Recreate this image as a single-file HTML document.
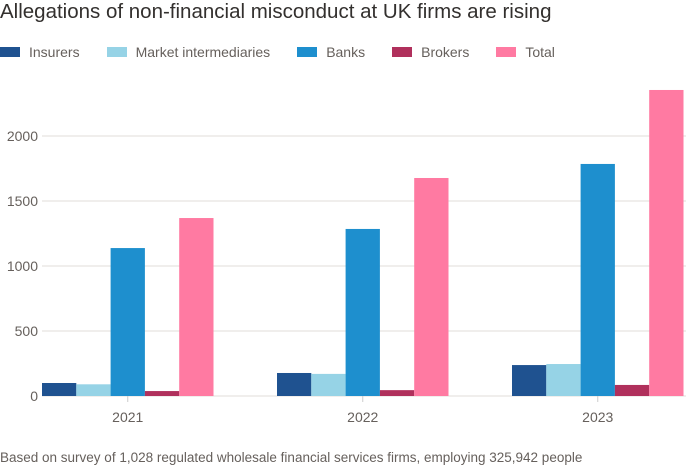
<!DOCTYPE html>
<html><head><meta charset="utf-8"><style>
body{margin:0;width:700px;height:470px;background:#fff;font-family:"Liberation Sans",sans-serif;color:#33302e;overflow:hidden;position:relative}
#title{position:absolute;left:0;top:0;font-size:20.5px;color:#33302e;white-space:nowrap}
#legend{position:absolute;left:0;top:44px;font-size:14px;color:#66605c;display:flex}
.li{display:flex;align-items:center;margin-right:27px}
.sw{width:20px;height:10px;margin-right:9px}
#note{position:absolute;left:0;top:450px;font-size:13.5px;color:#66605c;white-space:nowrap}
svg{position:absolute;left:0;top:0}
</style></head><body>
<div id="title">Allegations of non-financial misconduct at UK firms are rising</div>
<div id="legend">
<div class="li"><span class="sw" style="background:#1f5290"></span>Insurers</div>
<div class="li"><span class="sw" style="background:#96d3e6"></span>Market intermediaries</div>
<div class="li"><span class="sw" style="background:#1e8fce"></span>Banks</div>
<div class="li"><span class="sw" style="background:#b0305c"></span>Brokers</div>
<div class="li"><span class="sw" style="background:#ff7aa2"></span>Total</div>
</div>
<svg id="chart" width="700" height="470"></svg>
<div id="note">Based on survey of 1,028 regulated wholesale financial services firms, employing 325,942 people</div>
<script>
const years=["2021","2022","2023"];
const seriesNames=["Insurers","Market intermediaries","Banks","Brokers","Total"];
const insurers=[100,177,238];
const marketIntermediaries=[90,170,246];
const banks=[1138,1285,1785];
const brokers=[38,45,85];
const total=[1369,1677,2354];
const yTicks=[0,500,1000,1500,2000];
const colors=["#1f5290","#96d3e6","#1e8fce","#b0305c","#ff7aa2"];
const series=[insurers,marketIntermediaries,banks,brokers,total];
const NS="http://www.w3.org/2000/svg";
const svg=document.getElementById("chart");
const x0=42,x1=686,y0=396,pxPerUnit=0.13,band=235,barW=34.3;
const y=v=>y0-v*pxPerUnit;
const bx=(i,j)=>x0+i*band+j*barW;
function mk(t,a){const e=document.createElementNS(NS,t);for(const k in a)e.setAttribute(k,a[k]);svg.appendChild(e);return e;}
yTicks.forEach(t=>{
 const l=mk("line",{x1:x0,x2:x1,y1:y(t),y2:y(t),stroke:"#e0dcd8","stroke-width":1});
 
 
 const tx=mk("text",{x:38,y:y(t)+5,"text-anchor":"end","font-size":14,fill:"#66605c","font-family":"Liberation Sans, sans-serif"});
 tx.textContent=t;
 
 
});
series.forEach((s,j)=>{
 s.forEach((v,i)=>{
  const r=mk("rect",{x:bx(i,j),y:y(v),width:barW,height:v*pxPerUnit,fill:colors[j]});
  
  
 });
});
years.forEach((yr,i)=>{
 const cx=x0+i*band+barW*2.5;
 const tk=mk("line",{x1:cx,x2:cx,y1:y0,y2:y0+6,stroke:"#ccc","stroke-width":1});
 
 
 const t=mk("text",{x:cx,y:y0+26,"text-anchor":"middle","font-size":14,fill:"#66605c","font-family":"Liberation Sans, sans-serif"});
 t.textContent=yr;
 
 
});
</script>
</body></html>
